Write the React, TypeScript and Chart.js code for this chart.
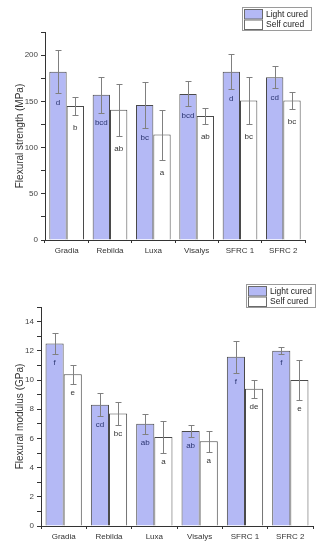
import { useEffect, useRef } from 'react';
import { Chart, registerables } from 'chart.js';
Chart.register(...registerables);

const FONT = "'Liberation Sans', Arial, sans-serif";

const categories = ['Gradia', 'Rebilda', 'Luxa', 'Visalys', 'SFRC 1', 'SFRC 2'];
const seriesNames = ['Light cured', 'Self cured'];

const strengthLight = [182, 157, 146, 158, 182, 176];
const strengthLightErr = [23.5, 19.5, 25, 13.5, 19, 12];
const strengthSelf = [145, 141, 114, 134, 151, 151];
const strengthSelfErr = [10, 28, 27, 9, 25, 9];
const strengthLightLetters = ['d', 'bcd', 'bc', 'bcd', 'd', 'cd'];
const strengthSelfLetters = ['b', 'ab', 'a', 'ab', 'bc', 'bc'];

const modulusLight = [12.5, 8.3, 7.0, 6.5, 11.6, 12.0];
const modulusLightErr = [0.7, 0.8, 0.7, 0.4, 1.1, 0.25];
const modulusSelf = [10.4, 7.7, 6.1, 5.8, 9.4, 10.0];
const modulusSelfErr = [0.65, 0.8, 1.1, 0.7, 0.6, 1.4];
const modulusLightLetters = ['f', 'cd', 'ab', 'ab', 'f', 'f'];
const modulusSelfLetters = ['e', 'bc', 'a', 'a', 'de', 'e'];

const LIGHT_FILL = '#b4b9f5';
const BORDER = '#4a4a4a';

const errorPlugin = {
  id: 'errLetters',
  afterDatasetsDraw(chart: any) {
    const ctx = chart.ctx;
    const y = chart.scales.y;
    chart.data.datasets.forEach((ds: any, di: number) => {
      const meta = chart.getDatasetMeta(di);
      meta.data.forEach((bar: any, i: number) => {
        const v = ds.data[i];
        const e = ds.errors[i];
        const yt = Math.round(y.getPixelForValue(v + e)) + 0.5;
        const yb = Math.round(y.getPixelForValue(v - e)) + 0.5;
        const x = Math.round(bar.x) + 0.5;
        ctx.save();
        ctx.strokeStyle = '#808080';
        ctx.lineWidth = 1;
        ctx.beginPath();
        ctx.moveTo(x, yt); ctx.lineTo(x, yb);
        ctx.moveTo(x - 3, yt); ctx.lineTo(x + 3, yt);
        ctx.moveTo(x - 3, yb); ctx.lineTo(x + 3, yb);
        ctx.stroke();
        ctx.fillStyle = ds.letterColor;
        ctx.font = `8px ${FONT}`;
        ctx.textAlign = 'center';
        ctx.textBaseline = 'middle';
        ctx.fillText(ds.letters[i], bar.x, yb + ds.letterOffset);
        ctx.restore();
      });
    });
  },
};

const boxLegendPlugin = {
  id: 'boxLegend',
  afterDraw(chart: any, _a: any, opts: any) {
    const ctx = chart.ctx;
    const w = 70, h = 24;
    const right = opts.right;
    const bottom = opts.bottom;
    const left = right - w, top = bottom - h;
    ctx.save();
    ctx.fillStyle = '#fff';
    ctx.fillRect(left, top, w, h);
    ctx.strokeStyle = '#9a9a9a';
    ctx.lineWidth = 1;
    ctx.strokeRect(left + 0.5, top + 0.5, w - 1, h - 1);
    chart.data.datasets.forEach((ds: any, i: number) => {
      const sy = top + 2 + i * 10.5;
      ctx.fillStyle = ds.backgroundColor;
      ctx.fillRect(left + 2, sy, 19, 10);
      ctx.strokeStyle = '#6a6a6a';
      ctx.strokeRect(left + 2.5, sy + 0.5, 18, 9.5);
      ctx.fillStyle = '#222';
      ctx.font = `8.5px ${FONT}`;
      ctx.textAlign = 'left';
      ctx.textBaseline = 'middle';
      ctx.fillText(ds.label, left + 24, sy + 5.5);
    });
    ctx.restore();
  },
};

function makeConfig(p: any) {
  return {
    type: 'bar',
    data: {
      labels: categories,
      datasets: [
        {
          label: seriesNames[0], data: p.light, errors: p.lightErr, letters: p.lightLetters,
          backgroundColor: LIGHT_FILL, borderColor: BORDER, borderWidth: 1,
          letterColor: '#2a3470', letterOffset: p.offLight,
          categoryPercentage: 0.8, barPercentage: 1.0,
        },
        {
          label: seriesNames[1], data: p.self, errors: p.selfErr, letters: p.selfLetters,
          backgroundColor: '#ffffff', borderColor: BORDER, borderWidth: 1,
          letterColor: '#333', letterOffset: p.offSelf,
          categoryPercentage: 0.8, barPercentage: 1.0,
        },
      ],
    },
    options: {
      responsive: false,
      animation: false,
      layout: { padding: { top: p.padTop, right: p.padRight, left: 0, bottom: 0 } },
      plugins: {
        legend: { display: false },
        tooltip: { enabled: false },
        boxLegend: { right: p.legRight, bottom: p.legBottom },
      },
      scales: {
        x: {
          type: 'category',
          offset: true,
          grid: { display: true, drawOnChartArea: false, offset: true, tickLength: 3, color: '#333' },
          border: { display: true, color: '#333' },
          ticks: { font: { family: FONT, size: 8 }, color: '#333', padding: 3, maxRotation: 0 },
          afterFit: (s: any) => { s.height = p.xH; },
        },
        y: {
          min: 0,
          max: p.max,
          grid: { display: true, drawOnChartArea: false, tickLength: 4, color: '#333' },
          border: { display: true, color: '#333' },
          ticks: {
            stepSize: p.step,
            autoSkip: false,
            font: { family: FONT, size: 8 },
            color: '#444',
            padding: 3,
            callback: (v: number) => (Math.round(v / p.step) % 2 === 0 && v < p.max ? String(v) : ''),
          },
          title: {
            display: true, text: p.title, color: '#333',
            font: { family: FONT, size: 10 }, padding: { top: 14, bottom: 0 },
          },
          afterFit: (s: any) => { s.width = p.yW; },
        },
      },
    },
    plugins: [errorPlugin, boxLegendPlugin],
  };
}

function BarChart({ width, height, params }: any) {
  const ref = useRef<HTMLCanvasElement>(null);
  useEffect(() => {
    const chart = new Chart(ref.current as any, makeConfig(params) as any);
    return () => chart.destroy();
  }, []);
  return <canvas ref={ref} width={width} height={height} style={{ display: 'block', width, height }} />;
}

export default function App() {
  const top = {
    light: strengthLight, lightErr: strengthLightErr, lightLetters: strengthLightLetters,
    self: strengthSelf, selfErr: strengthSelfErr, selfLetters: strengthSelfLetters,
    max: 225, step: 25, title: 'Flexural strength (MPa)',
    padTop: 32, padRight: 19, yW: 45, xH: 22, offLight: 9, offSelf: 12,
    legRight: 312, legBottom: 31,
  };
  const bottom = {
    light: modulusLight, lightErr: modulusLightErr, lightLetters: modulusLightLetters,
    self: modulusSelf, selfErr: modulusSelfErr, selfLetters: modulusSelfLetters,
    max: 15, step: 1, title: 'Flexural modulus (GPa)',
    padTop: 45, padRight: 11, yW: 41, xH: 24, offLight: 8, offSelf: 8,
    legRight: 316, legBottom: 46,
  };
  return (
    <div style={{ position: 'absolute', left: 0, top: 0, width: 324, height: 550, background: '#fff' }}>
      <BarChart width={324} height={262} params={top} />
      <BarChart width={324} height={288} params={bottom} />
    </div>
  );
}
